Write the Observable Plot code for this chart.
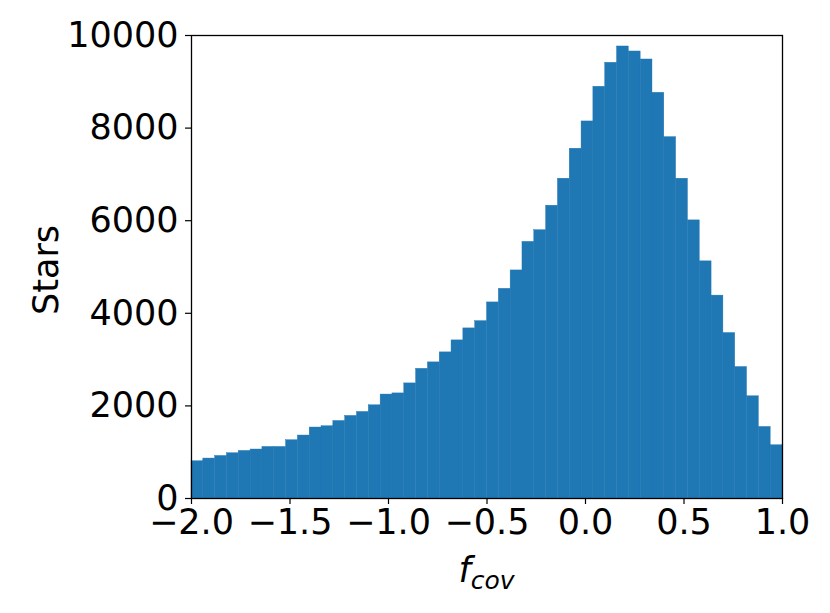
<!DOCTYPE html>
<html>
<head>
<meta charset="utf-8">
<script src="https://cdn.jsdelivr.net/npm/d3@7"></script>
<script src="https://cdn.jsdelivr.net/npm/@observablehq/plot@0.6"></script>
<style>
  html, body { margin: 0; padding: 0; background: white; }
</style>
</head>
<body>
<div id="chart"></div>
<script>
// Histogram: 50 bins of width 0.06 from -2.0 to 1.0
const binStart = -2.0;
const binWidth = 0.06;
const counts = [
  805, 863, 919, 978, 1028, 1058, 1114, 1114, 1259, 1360,
  1533, 1561, 1675, 1784, 1870, 2013, 2245, 2270, 2486, 2801,
  2940, 3156, 3415, 3674, 3831, 4235, 4529, 4926, 5543, 5795,
  6324, 6907, 7555, 8144, 8893, 9411, 9763, 9655, 9482, 8763,
  7805, 6907, 6007, 5122, 4382, 3574, 2840, 2208, 1546, 1150
];
const xTicks = [-2.0, -1.5, -1.0, -0.5, 0.0, 0.5, 1.0];
const yTicks = [0, 2000, 4000, 6000, 8000, 10000];
const yLabel = "Stars";
const xLabelMain = "f";
const xLabelSub = "cov";

const bins = counts.map((c, i) => ({
  x1: binStart + i * binWidth,
  x2: binStart + (i + 1) * binWidth,
  count: c
}));

const W = 830, H = 613;
const mL = 191, mR = 48, mT = 35, mB = 115;

const chart = Plot.plot({
  width: W,
  height: H,
  marginLeft: mL,
  marginRight: mR,
  marginTop: mT,
  marginBottom: mB,
  style: { fontFamily: "DejaVu Sans", fontSize: "35px", background: "white", color: "black", overflow: "visible" },
  x: { domain: [-2, 1] },
  y: { domain: [0, 10000] },
  marks: [
    Plot.rectY(bins, { x1: "x1", x2: "x2", y: "count", fill: "#1f77b4", stroke: "#1f77b4", strokeWidth: 0.4, insetLeft: 0, insetRight: 0 }),
    Plot.frame({ stroke: "black", strokeWidth: 1.3 }),
    Plot.axisX({ ticks: xTicks, tickFormat: d3.format(".1f"), tickSize: 6, tickPadding: 5, label: null, strokeWidth: 1.2 }),
    Plot.axisY({ ticks: yTicks, tickFormat: d3.format("d"), tickSize: 6, tickPadding: 7, label: null, strokeWidth: 1.2 })
  ]
});

const svg = d3.select(chart);
// y-axis label
svg.append("text")
  .attr("transform", `translate(58,270) rotate(-90)`)
  .attr("text-anchor", "middle")
  .attr("font-family", "DejaVu Sans")
  .attr("font-size", 35)
  .attr("fill", "black")
  .text(yLabel);
// x-axis label with subscript
const xl = svg.append("text")
  .attr("x", (mL + (W - mR)) / 2)
  .attr("y", 582)
  .attr("text-anchor", "middle")
  .attr("font-family", "DejaVu Sans")
  .attr("font-style", "italic")
  .attr("font-size", 35)
  .attr("fill", "black");
xl.append("tspan").text(xLabelMain);
xl.append("tspan").attr("font-size", 25).attr("dy", 7).text(xLabelSub);

document.getElementById("chart").appendChild(chart);
</script>
</body>
</html>
